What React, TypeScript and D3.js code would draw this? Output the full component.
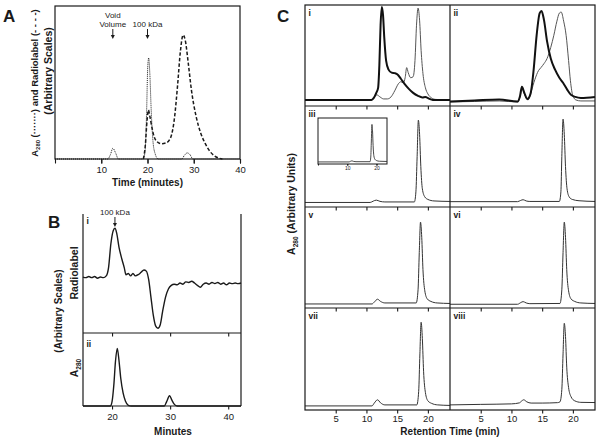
import React, { useRef, useEffect } from 'react';
import * as d3 from 'd3';

type Pt = [number, number];

const FONT = 'Arial, "Liberation Sans", Helvetica, sans-serif';
const INK = '#1a1a1a';

// ---- Panel A: gel filtration, A280 (dotted) + radiolabel (dashed)
const aTickValues = [0, 10, 20, 30, 40];
const aA280: Pt[] = [
  [0, 0], [11.4, 0], [12, 3], [12.5, 7], [13.1, 4], [13.7, 0], [19.1, 0], [19.5, 6],
  [19.8, 30], [20.05, 60], [20.25, 66], [20.5, 56], [20.8, 32], [21.2, 11], [21.7, 3],
  [22.3, 0], [27.4, 0], [28, 2.5], [28.6, 4], [29.2, 2.8], [29.8, 0], [40, 0],
];
const aRadio: Pt[] = [
  [19.1, 0], [19.5, 8], [19.9, 25], [20.2, 32], [20.5, 28], [21, 20], [21.5, 14],
  [22, 11.5], [23, 10], [24, 10.5], [25, 14], [25.8, 26], [26.5, 48], [27.1, 70],
  [27.7, 81], [28.2, 77], [28.8, 63], [29.5, 45], [30.5, 28], [31.5, 17], [32.5, 10],
  [33.5, 5], [34.5, 2], [35.5, 0.5], [36.2, 0],
];
const aMarkers = [
  { t: 12.5, text: ['Void', 'Volume'] },
  { t: 20, text: ['100 kDa'] },
];

// ---- Panel B: radiolabel (i) and A280 (ii)
const bTickValues = [20, 30, 40];
const bRadio: Pt[] = [
  [15, 47], [15.5, 46.5], [16, 47.5], [16.5, 46.5], [17, 47.5], [17.5, 46], [18, 47],
  [18.5, 46.5], [19, 48], [19.4, 55], [19.8, 75], [20.2, 86], [20.5, 88], [20.8, 84],
  [21.2, 72], [21.7, 62], [22.1, 55], [22.4, 49], [22.8, 50], [23.2, 48], [23.6, 50],
  [24, 48], [24.5, 49], [25, 51], [25.5, 53], [25.9, 52], [26.3, 45], [26.7, 30],
  [27.1, 15], [27.5, 6], [27.9, 4], [28.3, 7], [28.7, 18], [29.2, 30], [29.7, 37],
  [30.2, 40], [30.7, 41], [31.2, 40.5], [31.7, 42], [32.2, 41], [32.7, 43], [33.2, 42.5],
  [33.7, 43.5], [34.2, 42], [34.7, 40], [35.2, 38.5], [35.7, 41], [36.2, 42], [36.7, 41],
  [37.2, 42.5], [37.7, 41.5], [38.2, 42.5], [38.7, 41], [39.2, 42], [39.7, 40.5],
  [40.2, 42], [40.7, 41.5], [41.2, 42], [41.7, 41.5], [42.2, 42],
];
const bA280: Pt[] = [
  [15, 0], [19.7, 0], [20.0, 6], [20.3, 28], [20.6, 62], [20.9, 79], [21.2, 62],
  [21.5, 38], [21.9, 18], [22.3, 7], [22.8, 1], [23.3, 0], [29.0, 0], [29.4, 6],
  [29.9, 14], [30.3, 8], [30.7, 2.5], [31.2, 0], [42.2, 0],
];
const bMarker = { t: 20.5, text: '100 kDa' };

// ---- Panel C: retention time (min), eight traces
const cTickValues = [5, 10, 15, 20];
const cInsetTicks = [10, 20];
const cLabels = ['i', 'ii', 'iii', 'iv', 'v', 'vi', 'vii', 'viii'];
const cIThick: Pt[] = [
  [0, 6], [10.8, 6], [11.2, 8], [11.6, 13], [11.9, 18], [12.1, 40], [12.3, 80], [12.5, 98],
  [12.7, 90], [12.9, 68], [13.2, 45], [13.6, 36], [14.1, 33], [14.6, 32.5], [15.1, 31],
  [15.6, 27], [16.2, 22], [16.9, 17], [17.6, 13], [18.4, 10], [19.1, 8.5], [19.6, 9],
  [20.1, 7.5], [20.8, 6], [23.6, 6],
];
const cIThin: Pt[] = [
  [0, 6], [10.9, 6], [11.3, 9], [11.7, 11], [12.2, 9], [12.8, 7], [13.4, 7], [14.0, 9],
  [14.6, 15], [15.2, 22], [15.6, 24], [16.0, 23], [16.3, 28], [16.55, 38], [16.8, 33],
  [17.2, 28], [17.6, 29], [17.9, 45], [18.15, 80], [18.4, 97], [18.65, 85], [18.9, 55],
  [19.2, 32], [19.6, 18], [20.0, 12], [20.6, 8], [21.3, 6.5], [23.6, 6],
];
const cIIThick: Pt[] = [
  [0, 4.5], [4, 5.5], [8, 6.5], [11, 4.5], [11.4, 10], [11.7, 19], [12.1, 13], [12.6, 7],
  [13.1, 12], [13.6, 35], [14.1, 70], [14.6, 92], [14.9, 94], [15.3, 85], [15.8, 64],
  [16.4, 47], [17.1, 36], [17.8, 28], [18.4, 23], [19.1, 16], [19.7, 11], [20.4, 9],
  [21.3, 8], [23.6, 9],
];
const cIIThin: Pt[] = [
  [0, 4], [4, 4.5], [8, 5], [11, 4], [11.4, 9], [11.7, 17], [12.1, 12], [12.7, 6],
  [13.2, 14], [13.8, 26], [14.4, 35], [14.8, 38], [15.3, 42], [15.8, 47], [16.4, 58],
  [16.9, 70], [17.4, 84], [17.8, 92], [18.1, 93], [18.5, 84], [18.9, 70], [19.3, 45],
  [19.6, 25], [20, 10], [20.5, 6], [21.3, 5], [23.6, 5],
];
const cIII: Pt[] = [
  [0, 4.5], [10.6, 4.5], [11.1, 5.8], [11.6, 6.8], [12.2, 5.6], [13, 5], [17.8, 5],
  [18.05, 15], [18.25, 50], [18.45, 86], [18.65, 72], [18.85, 40], [19.1, 18], [19.5, 10],
  [20, 7.5], [21, 6], [23.6, 5.5],
];
const cIV: Pt[] = [
  [0, 5.3], [11, 5.3], [11.5, 6.5], [11.9, 7.2], [12.4, 6], [13, 5.5], [17.8, 5.5],
  [18.05, 15], [18.2, 50], [18.4, 87], [18.6, 72], [18.8, 40], [19.05, 18], [19.4, 10],
  [19.9, 7.5], [21, 6.2], [23.6, 5.5],
];
const cV: Pt[] = [
  [0, 4], [10.9, 4], [11.3, 6], [11.8, 8.7], [12.3, 6.5], [13, 5], [18.1, 5], [18.4, 18],
  [18.6, 55], [18.8, 85], [19.0, 70], [19.2, 38], [19.5, 17], [19.9, 9], [20.5, 6.5],
  [21.5, 5], [23.6, 4.5],
];
const cVI: Pt[] = [
  [0, 3.7], [11, 3.7], [11.5, 5.3], [11.9, 6.3], [12.4, 5], [13, 4.3], [17.9, 4.5],
  [18.2, 18], [18.4, 55], [18.6, 85], [18.8, 70], [19.0, 38], [19.3, 17], [19.7, 9],
  [20.3, 6.5], [21.3, 5], [23.6, 4.5],
];
const cVII: Pt[] = [
  [0, 4], [10.9, 4], [11.3, 7], [11.8, 10], [12.3, 7], [13, 5], [18.2, 5], [18.5, 18],
  [18.7, 55], [18.9, 86], [19.1, 70], [19.3, 38], [19.6, 17], [20, 9], [20.6, 6.5],
  [21.6, 5], [23.6, 4.5],
];
const cVIII: Pt[] = [
  [0, 5], [5, 5.5], [10, 6], [11.3, 7], [11.6, 8.5], [12, 10], [12.5, 8], [13.2, 6.8],
  [15, 6.8], [17.5, 7.2], [17.9, 8], [18.2, 20], [18.4, 55], [18.6, 85], [18.8, 72],
  [19.0, 42], [19.3, 22], [19.7, 13], [20.3, 9], [21.3, 7.5], [23.6, 7.3],
];

type Sel = d3.Selection<SVGGElement, unknown, null, undefined>;

function drawTrace(g: Sel, data: Pt[], x: any, y: any, stroke: string, width: number, dash?: string) {
  const gen = d3.line<Pt>().x(d => x(d[0])).y(d => y(d[1])).curve(d3.curveMonotoneX);
  const p = g.append('path').datum(data)
    .attr('fill', 'none')
    .attr('stroke', stroke)
    .attr('stroke-width', width)
    .attr('stroke-linejoin', 'round')
    .attr('d', gen);
  if (dash) p.attr('stroke-dasharray', dash);
}

function ticks(g: Sel, x: any, yPos: number, values: number[], labels: boolean, size: number, pad: number, fs: number) {
  const axis = d3.axisBottom(x)
    .tickValues(values)
    .tickSize(size)
    .tickSizeOuter(0)
    .tickPadding(pad)
    .tickFormat((d: any) => (labels ? String(d) : ''));
  const a = g.append('g').attr('transform', `translate(0,${yPos})`).call(axis as any);
  a.select('.domain').remove();
  a.attr('font-family', FONT).attr('font-size', fs);
  a.selectAll('line').attr('stroke', INK).attr('stroke-width', 1.1);
  a.selectAll('text').attr('fill', INK);
}

function seg(g: Sel, x1: number, y1: number, x2: number, y2: number, w = 1.2) {
  g.append('line').attr('x1', x1).attr('y1', y1).attr('x2', x2).attr('y2', y2)
    .attr('stroke', INK).attr('stroke-width', w);
}

function arrow(g: Sel, x: number, y1: number, y2: number) {
  seg(g, x, y1, x, y2 - 3, 1);
  g.append('path').attr('d', `M${x - 2},${y2 - 4} L${x + 2},${y2 - 4} L${x},${y2} Z`).attr('fill', INK);
}

function label(g: Sel, x: number, y: number, text: string, fs: number, weight = 'normal', anchor = 'start') {
  return g.append('text').attr('x', x).attr('y', y).attr('font-family', FONT).attr('font-size', fs)
    .attr('font-weight', weight).attr('text-anchor', anchor).attr('fill', INK).text(text);
}

function vlabel(g: Sel, x: number, y: number, fs: number) {
  return g.append('text').attr('transform', `translate(${x},${y}) rotate(-90)`)
    .attr('text-anchor', 'middle').attr('font-family', FONT).attr('font-size', fs)
    .attr('font-weight', 'bold').attr('fill', INK);
}

function a280(t: any, rest: string, fs: number) {
  t.append('tspan').text('A');
  t.append('tspan').attr('font-size', fs * 0.62).attr('dy', fs * 0.25).text('280');
  t.append('tspan').attr('dy', -fs * 0.25).text(rest);
}

export default function App() {
  const svgRef = useRef<SVGSVGElement>(null);

  useEffect(() => {
    const svg = d3.select(svgRef.current);
    svg.selectAll('*').remove();
    const root = svg.append('g') as Sel;

    // ---------------- A
    const ax = d3.scaleLinear().domain([0, 40]).range([55, 240]);
    const ay = d3.scaleLinear().domain([0, 100]).range([159, 6]);
    root.append('rect').attr('x', 55).attr('y', 6).attr('width', 185).attr('height', 153)
      .attr('fill', 'none').attr('stroke', INK).attr('stroke-width', 1.2);
    drawTrace(root, aA280, ax, ay, INK, 1, '1 1');
    drawTrace(root, aRadio, ax, ay, INK, 1.5, '3.5 2');
    ticks(root, ax, 159, aTickValues, false, 4.5, 0, 9.5);
    ticks(root, ax, 159, aTickValues.slice(1), true, 4.5, 2.5, 9.5);
    aMarkers.forEach(m => {
      const x = ax(m.t);
      m.text.forEach((s, i) => label(root, x, 27 - (m.text.length - 1 - i) * 9.5, s, 8, 'normal', 'middle'));
      arrow(root, x, 29, 39);
    });
    label(root, 147.5, 186, 'Time (minutes)', 10, 'bold', 'middle');
    a280(vlabel(root, 38, 83, 9.5), ' (·······) and Radiolabel (- - - -)', 9.5);
    vlabel(root, 51.5, 71, 10.5).text('(Arbitrary Scales)');
    label(root, 3, 22, 'A', 17, 'bold');

    // ---------------- B
    const bx = d3.scaleLinear().domain([15, 42.2]).range([83, 241]);
    const by1 = d3.scaleLinear().domain([0, 100]).range([333, 214]);
    const by2 = d3.scaleLinear().domain([0, 100]).range([406, 333]);
    seg(root, 83, 214, 83, 406);
    seg(root, 241, 214, 241, 406);
    seg(root, 83, 333, 241, 333);
    seg(root, 83, 406, 241, 406);
    drawTrace(root, bRadio, bx, by1, INK, 1.4);
    drawTrace(root, bA280, bx, by2, INK, 1.4);
    ticks(root, bx, 333, bTickValues, false, 3.5, 0, 9.5);
    ticks(root, bx, 406, bTickValues, true, 3.5, 4, 9.5);
    label(root, bx(bMarker.t), 215, bMarker.text, 8, 'normal', 'middle');
    arrow(root, bx(bMarker.t), 217, 227);
    label(root, 86.5, 224, 'i', 8.5, 'bold');
    label(root, 86.5, 347, 'ii', 8.5, 'bold');
    label(root, 173, 435, 'Minutes', 10, 'bold', 'middle');
    vlabel(root, 62, 311, 10).text('(Arbitrary Scales)');
    vlabel(root, 78, 273, 10.5).text('Radiolabel');
    a280(vlabel(root, 78, 368, 10.5), '', 10.5);
    label(root, 48, 228, 'B', 17, 'bold');

    // ---------------- C
    const cols = [[305, 450], [450, 595]];
    const rows = [5, 106, 207, 308, 410];
    const cx = cols.map(c => d3.scaleLinear().domain([0, 23.6]).range(c));
    const cy = rows.slice(0, 4).map((top, i) => d3.scaleLinear().domain([0, 100]).range([rows[i + 1], top]));
    const traces: { data: Pt[]; w: number; color: string }[][] = [
      [{ data: cIThin, w: 1, color: '#555' }, { data: cIThick, w: 2, color: '#111' }],
      [{ data: cIIThin, w: 1, color: '#555' }, { data: cIIThick, w: 2, color: '#111' }],
      [{ data: cIII, w: 1, color: '#333' }],
      [{ data: cIV, w: 1, color: '#333' }],
      [{ data: cV, w: 1, color: '#333' }],
      [{ data: cVI, w: 1, color: '#333' }],
      [{ data: cVII, w: 1, color: '#333' }],
      [{ data: cVIII, w: 1, color: '#333' }],
    ];
    traces.forEach((list, k) => {
      const r = Math.floor(k / 2);
      const c = k % 2;
      list.forEach(t => drawTrace(root, t.data, cx[c], cy[r], t.color, t.w));
      label(root, cols[c][0] + 3.5, rows[r] + 10.5, cLabels[k], 8.5, 'bold');
      ticks(root, cx[c], rows[r + 1], cTickValues, r === 3, 3.5, 1.5, 9.5);
    });
    root.append('rect').attr('x', 305).attr('y', 5).attr('width', 290).attr('height', 405)
      .attr('fill', 'none').attr('stroke', INK).attr('stroke-width', 1.2);
    seg(root, 450, 5, 450, 410);
    [106, 207, 308].forEach(y => seg(root, 305, y, 595, y));

    // inset in panel iii
    const ix = d3.scaleLinear().domain([0, 23.6]).range([318, 387]);
    const iy = d3.scaleLinear().domain([0, 100]).range([164, 118]);
    root.append('rect').attr('x', 318).attr('y', 118).attr('width', 69).attr('height', 46)
      .attr('fill', '#fff').attr('stroke', INK).attr('stroke-width', 1);
    drawTrace(root, cIII, ix, iy, '#333', 0.9);
    ticks(root, ix, 164, [0, ...cInsetTicks], false, 1.5, 0, 5);
    ticks(root, ix, 164, cInsetTicks, true, 1.5, 0.5, 5);

    label(root, 450, 435, 'Retention Time (min)', 10, 'bold', 'middle');
    a280(vlabel(root, 295, 204, 10.5), ' (Arbitrary Units)', 10.5);
    label(root, 277, 22, 'C', 17, 'bold');
  }, []);

  return (
    <svg
      ref={svgRef}
      width={601}
      height={440}
      style={{ position: 'absolute', left: 0, top: 0, background: '#fff' }}
    />
  );
}
